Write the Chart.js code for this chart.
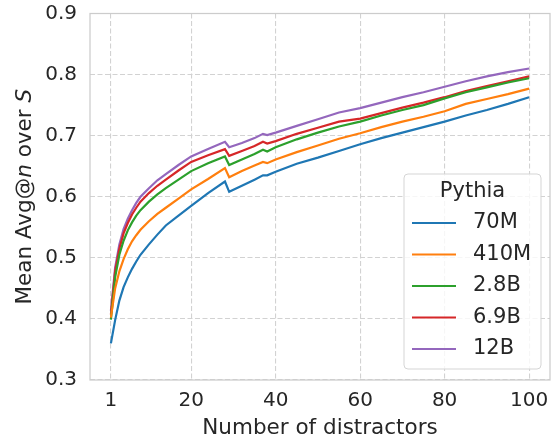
<!DOCTYPE html>
<html>
<head>
<meta charset="utf-8">
<script src="https://cdn.jsdelivr.net/npm/chart.js@4"></script>
<style>
  body { margin: 0; background: #fff; }
  #wrap { width: 558px; height: 441px; }
</style>
</head>
<body>
<div id="wrap"><canvas id="chart" width="558" height="441"></canvas></div>
<script>
// number of distractors sampled along the curves
const distractors = [1, 2, 3, 4, 5, 6, 7, 8, 10, 12, 14, 17, 20, 24, 28, 29, 32, 35, 37, 38, 40, 45, 50, 55, 60, 65, 70, 75, 80, 85, 90, 95, 100];

const pythia70m  = [0.360, 0.398, 0.430, 0.452, 0.468, 0.482, 0.494, 0.505, 0.522, 0.538, 0.553, 0.569, 0.585, 0.606, 0.625, 0.608, 0.618, 0.628, 0.635, 0.635, 0.641, 0.654, 0.664, 0.675, 0.686, 0.696, 0.705, 0.714, 0.723, 0.733, 0.742, 0.752, 0.763];
const pythia410m = [0.402, 0.450, 0.478, 0.498, 0.514, 0.527, 0.537, 0.546, 0.560, 0.572, 0.582, 0.597, 0.612, 0.629, 0.647, 0.632, 0.642, 0.651, 0.657, 0.655, 0.661, 0.673, 0.684, 0.695, 0.704, 0.714, 0.723, 0.731, 0.740, 0.752, 0.760, 0.768, 0.777];
const pythia2_8b = [0.399, 0.468, 0.505, 0.528, 0.545, 0.558, 0.569, 0.578, 0.592, 0.604, 0.614, 0.628, 0.642, 0.655, 0.666, 0.652, 0.661, 0.670, 0.677, 0.674, 0.681, 0.694, 0.705, 0.715, 0.723, 0.733, 0.742, 0.750, 0.761, 0.771, 0.779, 0.787, 0.794];
const pythia6_9b = [0.407, 0.478, 0.515, 0.540, 0.557, 0.571, 0.582, 0.592, 0.606, 0.618, 0.628, 0.643, 0.657, 0.668, 0.678, 0.667, 0.675, 0.683, 0.690, 0.687, 0.691, 0.703, 0.713, 0.723, 0.728, 0.737, 0.746, 0.754, 0.763, 0.773, 0.781, 0.789, 0.797];
const pythia12b  = [0.413, 0.484, 0.522, 0.547, 0.564, 0.578, 0.590, 0.600, 0.614, 0.627, 0.637, 0.652, 0.666, 0.678, 0.690, 0.681, 0.688, 0.696, 0.703, 0.701, 0.705, 0.716, 0.727, 0.738, 0.745, 0.754, 0.763, 0.771, 0.780, 0.789, 0.797, 0.804, 0.810];

const modelNames = ['70M', '410M', '2.8B', '6.9B', '12B'];
const modelColors = ['#1f77b4', '#ff7f0e', '#2ca02c', '#d62728', '#9467bd'];
const xTicks = [1, 20, 40, 60, 80, 100];

const FONT = 'DejaVu Sans';
const TEXT = '#262626';
const GRID = '#d2d2d2';

const toPoints = ys => ys.map((y, i) => ({ x: distractors[i], y: y }));

// frame, y title (with italic n and S) and the legend box
const decorPlugin = {
  id: 'decor',
  beforeDatasetsDraw(chart) {
    const { ctx, chartArea: a } = chart;
    ctx.save();
    ctx.strokeStyle = '#cccccc';
    ctx.lineWidth = 1.25;
    ctx.strokeRect(a.left, a.top, a.right - a.left, a.bottom - a.top);
    ctx.restore();
  },
  afterDraw(chart) {
    const { ctx, chartArea: a } = chart;

    // y axis title
    const parts = [
      ['Mean Avg@', false], ['n', true], [' over ', false], ['S', true]
    ];
    const size = 21.5;
    ctx.save();
    ctx.translate(25, (a.top + a.bottom) / 2);
    ctx.rotate(-Math.PI / 2);
    ctx.fillStyle = TEXT;
    ctx.textBaseline = 'middle';
    ctx.textAlign = 'left';
    let total = 0;
    parts.forEach(p => {
      ctx.font = (p[1] ? 'italic ' : '') + size + 'px "' + FONT + '"';
      total += ctx.measureText(p[0]).width;
    });
    let x = -total / 2;
    parts.forEach(p => {
      ctx.font = (p[1] ? 'italic ' : '') + size + 'px "' + FONT + '"';
      ctx.fillText(p[0], x, 0);
      x += ctx.measureText(p[0]).width;
    });
    ctx.restore();

    // legend
    const box = { left: 404, top: 174, width: 137, height: 195 };
    ctx.save();
    ctx.beginPath();
    ctx.roundRect(box.left, box.top, box.width, box.height, 4);
    ctx.fillStyle = 'rgba(255,255,255,0.8)';
    ctx.fill();
    ctx.strokeStyle = '#d5d5d5';
    ctx.lineWidth = 1;
    ctx.stroke();

    ctx.fillStyle = TEXT;
    ctx.font = '21px "' + FONT + '"';
    ctx.textBaseline = 'middle';
    ctx.textAlign = 'center';
    ctx.fillText('Pythia', box.left + box.width / 2, 192);

    ctx.textAlign = 'left';
    chart.data.datasets.forEach((ds, i) => {
      const y = 223 + i * 31.5;
      ctx.strokeStyle = ds.borderColor;
      ctx.lineWidth = 2.2;
      ctx.beginPath();
      ctx.moveTo(412, y);
      ctx.lineTo(456, y);
      ctx.stroke();
      ctx.fillStyle = TEXT;
      ctx.fillText(ds.label, 473, y);
    });
    ctx.restore();
  }
};

const seriesValues = [pythia70m, pythia410m, pythia2_8b, pythia6_9b, pythia12b];

new Chart(document.getElementById('chart'), {
  type: 'line',
  data: {
    datasets: seriesValues.map((vals, i) => ({
      label: modelNames[i],
      data: toPoints(vals),
      borderColor: modelColors[i],
      backgroundColor: modelColors[i],
      borderWidth: 2.2,
      pointRadius: 0,
      tension: 0,
      fill: false
    }))
  },
  options: {
    responsive: false,
    animation: false,
    layout: { padding: { top: 13.5, right: 8, left: 0, bottom: 0 } },
    plugins: {
      legend: { display: false },
      tooltip: { enabled: false }
    },
    scales: {
      x: {
        type: 'linear',
        min: -3.95,
        max: 104.95,
        afterBuildTicks: axis => { axis.ticks = xTicks.map(v => ({ value: v })); },
        afterFit: axis => {
          axis.height = 61;
          axis.paddingLeft = 0;
          axis.paddingRight = 0;
        },
        ticks: {
          color: TEXT,
          font: { family: FONT, size: 20 },
          padding: 9,
          maxRotation: 0
        },
        grid: { color: GRID, lineWidth: 1.1, drawTicks: false, tickLength: 0 },
        border: { display: false, dash: [5, 2.5] },
        title: {
          display: true,
          text: 'Number of distractors',
          color: TEXT,
          font: { family: FONT, size: 21.5 },
          padding: { top: 0, bottom: 0 }
        }
      },
      y: {
        min: 0.3,
        max: 0.9,
        afterFit: axis => {
          axis.width = 90;
          axis.paddingTop = 0;
          axis.paddingBottom = 0;
        },
        ticks: {
          stepSize: 0.1,
          color: TEXT,
          font: { family: FONT, size: 20 },
          padding: 13,
          callback: v => v.toFixed(1)
        },
        grid: { color: GRID, lineWidth: 1.1, drawTicks: false, tickLength: 0 },
        border: { display: false, dash: [5, 2.5] }
      }
    }
  },
  plugins: [decorPlugin]
});
</script>
</body>
</html>
